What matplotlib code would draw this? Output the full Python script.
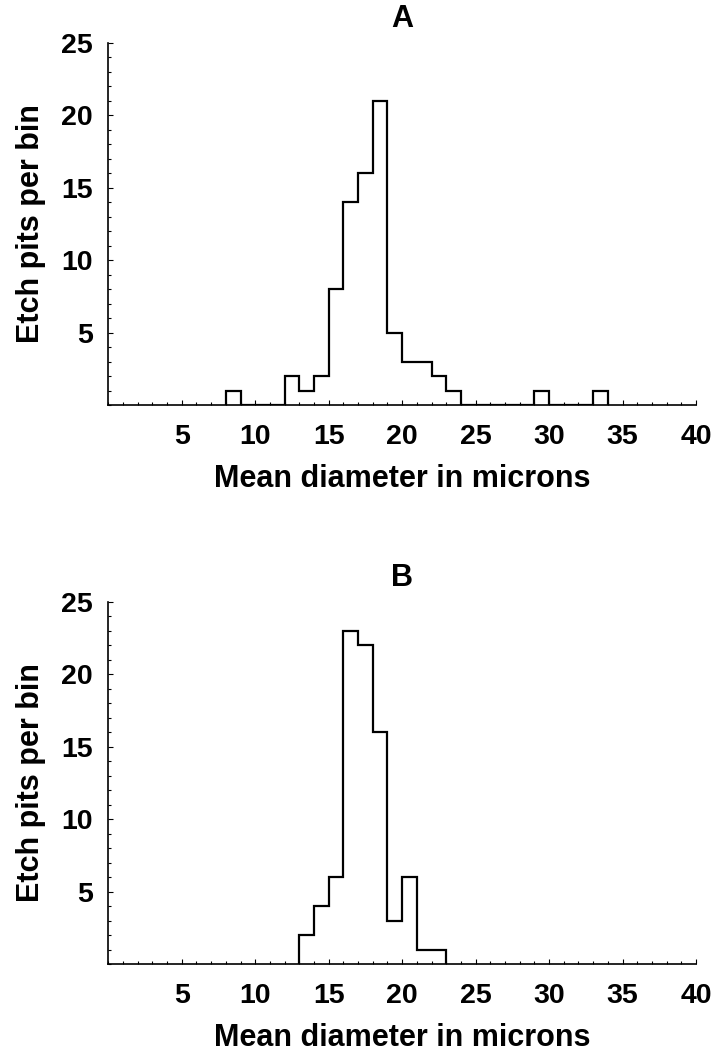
import numpy as np
import matplotlib
matplotlib.use("Agg")
import matplotlib.pyplot as plt
from matplotlib.ticker import MultipleLocator, FixedLocator

plt.rcParams['font.family'] = ['Liberation Sans', 'DejaVu Sans']
plt.rcParams['font.weight'] = 'bold'

# Panel A: counts per 1-micron bin, first bin starts at 8
a_first_bin = 8
a_counts = [1, 0, 0, 0, 2, 1, 2, 8, 14, 16, 21, 5, 3, 3, 2, 1,
            0, 0, 0, 0, 0, 1, 0, 0, 0, 1]
# Panel B: first bin starts at 13
b_first_bin = 13
b_counts = [2, 4, 6, 23, 22, 16, 3, 6, 1, 1]

titles = ['A', 'B']
xlabel = 'Mean diameter in microns'
ylabel = 'Etch pits per bin'
xticks = [5, 10, 15, 20, 25, 30, 35, 40]
yticks = [5, 10, 15, 20, 25]

FS_TICK = 20.5
FS_LAB = 22
FS_TITLE = 22
fig = plt.figure(figsize=(7.17, 10.57), dpi=100)
W, H = 717, 1057
ax_a = fig.add_axes([108.3 / W, 1 - 405 / H, (696 - 108.3) / W, (405 - 42.7) / H])
ax_b = fig.add_axes([108.3 / W, 1 - 964 / H, (696 - 108.3) / W, (964 - 601.7) / H])

for ax, first, counts, title in [(ax_a, a_first_bin, a_counts, titles[0]),
                                  (ax_b, b_first_bin, b_counts, titles[1])]:
    edges = np.arange(first, first + len(counts) + 1)
    ax.stairs(counts, edges, baseline=0, fill=False, color='black', linewidth=1.6)
    ax.set_xlim(0, 40)
    ax.set_ylim(0, 25)
    ax.spines['top'].set_visible(False)
    ax.spines['right'].set_visible(False)
    for s in ('left', 'bottom'):
        ax.spines[s].set_linewidth(1.2)
    ax.xaxis.set_major_locator(FixedLocator(xticks))
    ax.yaxis.set_major_locator(FixedLocator(yticks))
    ax.xaxis.set_minor_locator(MultipleLocator(1))
    ax.yaxis.set_minor_locator(MultipleLocator(1))
    ax.set_xticklabels([str(t) for t in xticks])
    ax.set_yticklabels([str(t) for t in yticks])
    ax.tick_params(axis='both', which='major', direction='in', length=3.6, width=0.8,
                   labelsize=FS_TICK)
    ax.tick_params(axis='both', which='minor', direction='in', length=2.0, width=0.8)
    ax.tick_params(axis='x', which='major', pad=14)
    ax.tick_params(axis='y', which='major', pad=11)
    for lab in ax.get_xticklabels() + ax.get_yticklabels():
        lab.set_fontweight('bold')
    ax.set_xlabel(xlabel, fontsize=FS_LAB, fontweight='bold', labelpad=10)
    ax.set_ylabel(ylabel, fontsize=FS_LAB, fontweight='bold', labelpad=11)
    ax.set_title(title, fontsize=FS_TITLE, fontweight='bold', pad=11)

fig.savefig('out.png', dpi=100)
